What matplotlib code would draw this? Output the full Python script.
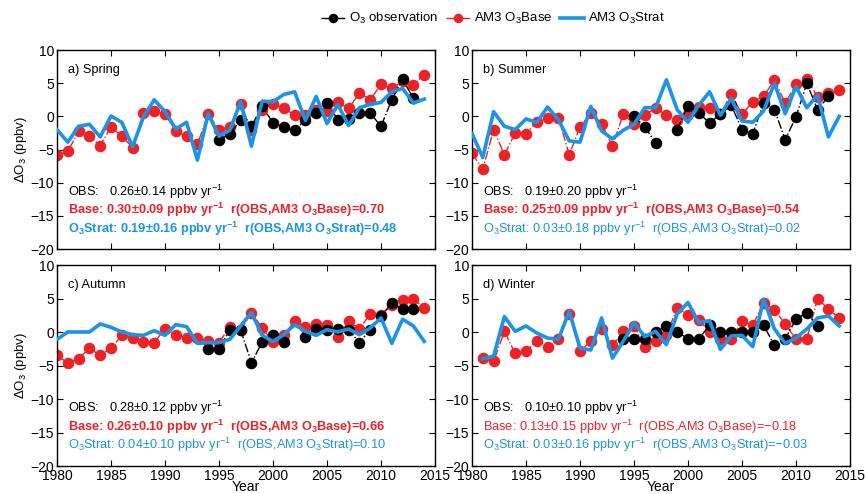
import numpy as np
import matplotlib.pyplot as plt

plt.rcParams['font.family'] = ['Liberation Sans', 'DejaVu Sans']
plt.rcParams['mathtext.fontset'] = 'custom'
plt.rcParams['mathtext.rm'] = 'Liberation Sans'
plt.rcParams['mathtext.it'] = 'Liberation Sans'
plt.rcParams['mathtext.bf'] = 'Liberation Sans:bold'

nan = np.nan
years = np.arange(1980, 2015)
win_years = np.arange(1981, 2015)

# spring
spr_obs_years = np.arange(1995, 2014)
spr_obs = [-3.6, -2.6, -0.6, -1.5, 1.5, -1.0, -1.6, -2.0, -0.6, 0.5, 2.0, -0.5, -0.4, 0.5, 0.5, -1.5, 2.5, 5.6, 2.7]
spr_base = [-5.9, -5.3, -2.2, -3.0, -4.4, -1.6, -3.0, -4.7, 0.5, 0.8,
            0.4, -2.2, -3.0, -4.2, 0.3, -2.0, -1.6, 1.9, -2.0, 1.0,
            1.9, 1.2, 0.2, 0.2, 0.9, 0.8, 2.1, 1.2, 3.5, 2.5,
            4.8, 4.2, 5.3, 4.7, 6.3]
spr_strat = [-2.0, -3.9, -1.5, -1.2, -3.1, 0.05, -0.9, -4.6, -0.1, 2.5,
             0.7, -1.9, -0.9, -6.6, 0.4, -3.0, -2.1, 2.2, -4.5, 2.3,
             2.2, 3.3, 3.7, -0.6, 3.0, -1.1, 1.8, -1.4, 1.3, 1.8,
             2.1, 3.7, 4.2, 2.0, 2.6]

# summer
sum_obs_years = np.arange(1995, 2014)
sum_obs = [0.0, -1.6, -4.0, nan, -2.0, 1.6, 0.5, -1.0, 0.3, 1.7, -2.0, -2.6, 2.0, 1.0, -3.5, -0.1, 5.0, 1.0, 3.0]
sum_base = [-5.6, -8.0, -2.0, -5.8, -2.5, -2.6, -0.9, -0.2, -0.2, -5.8,
            -1.6, 0.5, -1.1, -4.5, 0.3, -1.1, 0.15, 1.3, 0.15, -0.5,
            0.3, 1.4, 1.3, 0.3, 3.4, 0.3, 2.2, 3.0, 5.5, 2.0,
            4.8, 5.7, 2.9, 3.5, 4.0]
sum_strat = [-2.6, -6.2, 0.7, -1.5, -2.0, -0.4, -0.9, 1.4, -0.5, -3.7,
             -3.9, 1.5, -2.2, -3.4, -2.1, -1.2, 1.3, 1.3, 5.5, 1.0,
             -0.9, 1.7, 3.7, 0.15, 2.7, -0.7, -0.9, 0.8, 5.0, 0.4,
             4.5, 1.3, 3.2, -3.1, 0.0]

# autumn
aut_obs_years = np.arange(1994, 2014)
aut_obs = [-2.6, -2.6, 0.35, 0.35, -4.6, -1.5, -0.5, -1.5, nan, -0.7,
           0.45, 0.35, 0.45, 0.35, -1.6, 0.35, 2.4, 4.3, 3.4, 3.4]
aut_base = [-3.5, -4.6, -4.0, -2.4, -3.5, -2.4, -0.5, -0.9, -1.5, -1.6,
            0.5, -0.4, -0.9, -0.9, -1.3, -1.6, 0.8, 0.3, 2.9, 0.6,
            -1.5, -0.4, 1.6, 0.75, 1.2, 1.0, -0.7, 1.6, 0.45, 2.7,
            2.5, 4.0, 4.8, 4.9, 3.6]
aut_strat = [-1.1, 0.0, 0.0, 0.0, 1.2, 0.7, 0.0, -0.4, -0.5, 0.2,
             -0.5, 1.1, 0.8, -1.7, -1.6, -1.6, -1.1, 0.9, 2.9, -0.5,
             -1.4, -0.4, 1.1, 0.1, -0.5, 0.35, 0.0, 0.45, -0.4, 0.6,
             2.1, -1.7, 1.9, 0.9, -1.4]

# winter (1981-2014)
win_obs_years = np.arange(1994, 2013)
win_obs = [-1.0, -1.0, -1.0, 0.0, 0.9, 0.0, -1.0, -1.0, 1.0, 0.0, 0.0, 0.0, 0.0, 1.0, -2.0, -1.0, 1.9, 2.9, 0.9]
win_base = [-3.9, -4.4, 0.1, -3.2, -2.9, -1.3, -2.2, -1.0, 2.7,
            -2.9, -1.4, 0.45, -2.0, 0.1, 0.9, -2.2, -1.4, -0.4, 3.6,
            2.6, 1.8, 0.0, -1.0, -1.0, 1.6, 1.0, 4.4, 3.3, 1.2,
            -1.1, -1.0, 5.0, 3.4, 2.1]
win_strat = [-4.0, -3.6, 2.3, 0.1, 0.9, -0.15, -0.9, -1.1, 3.1,
             -2.4, -2.7, 2.1, -3.9, -1.4, 1.4, -0.7, 0.1, -1.9, 2.7,
             4.4, 1.4, 1.7, -2.6, -0.6, -0.5, -2.2, 4.9, 0.45, -1.7,
             -0.9, 0.45, 2.1, 2.4, 0.9]

labels = ['a) Spring', 'b) Summer', 'c) Autumn', 'd) Winter']
obs_txt = ['0.26\u00b10.14', '0.19\u00b10.20', '0.28\u00b10.12', '0.10\u00b10.10']
base_txt = ['0.30\u00b10.09', '0.25\u00b10.09', '0.26\u00b10.10', '0.13\u00b10.15']
base_r = ['0.70', '0.54', '0.66', '\u22120.18']
strat_txt = ['0.19\u00b10.16', '0.03\u00b10.18', '0.04\u00b10.10', '0.03\u00b10.16']
strat_r = ['0.48', '0.02', '0.10', '\u22120.03']
base_bold = [True, True, True, False]
strat_bold = [True, False, False, False]

red = '#ec2227'
blue = '#1a94e8'

panels = [
    (spr_obs_years, spr_obs, years, spr_base, spr_strat),
    (sum_obs_years, sum_obs, years, sum_base, sum_strat),
    (aut_obs_years, aut_obs, years, aut_base, aut_strat),
    (win_obs_years, win_obs, win_years, win_base, win_strat),
]

W, H = 866, 494
fig = plt.figure(figsize=(W / 100, H / 100), dpi=100)
boxes = [(57, 50, 378, 199), (472, 50, 378, 199),
         (57, 265, 378, 201), (472, 265, 378, 201)]
fs = 9.2

handles = None
for i, (oy, ov, my, mb, ms) in enumerate(panels):
    x0, y0, w, h = boxes[i]
    ax = fig.add_axes([x0 / W, 1 - (y0 + h) / H, w / W, h / H])
    hb, = ax.plot(my, mb, '-.', color=red, lw=1, marker='o', ms=7.3,
                  mec=red, mfc=red, zorder=2)
    ho, = ax.plot(oy, ov, '-.', color='black', lw=1, marker='o', ms=7.3,
                  mec='black', mfc='black', zorder=3)
    hs, = ax.plot(my, ms, '-', color=blue, lw=2.6, zorder=4)
    if handles is None:
        handles = [ho, hb, hs]
    ax.set_xlim(1980, 2015)
    ax.set_ylim(-20, 10)
    ax.set_xticks(np.arange(1980, 2016, 5))
    ax.set_yticks(np.arange(-20, 11, 5))
    ax.tick_params(direction='in', top=True, right=True, labelsize=10,
                   length=4, width=0.8, pad=2)
    for s in ax.spines.values():
        s.set_linewidth(1.0)
    if i < 2:
        ax.set_xticklabels([])
    else:
        ax.set_xlabel('Year', fontsize=10, labelpad=-2)
    if i % 2 == 0:
        ax.set_ylabel(r'$\Delta$O$_3$ (ppbv)', fontsize=9.5, labelpad=1)

    ax.text(1981, 7.0, labels[i], fontsize=fs, va='center')
    ax.text(1981, -11.4, 'OBS:   ' + obs_txt[i] + ' ppbv yr$^{-1}$',
            fontsize=fs, va='center', color='black')
    if base_bold[i]:
        s = ('Base: ' + base_txt[i] + r' ppbv yr$^{\mathbf{-1}}$  r(OBS,AM3 O$_{\mathbf{3}}$Base)=' + base_r[i])
        ax.text(1981, -14.1, s, fontsize=fs, va='center', color=red, weight='bold')
    else:
        s = ('Base: ' + base_txt[i] + ' ppbv yr$^{-1}$  r(OBS,AM3 O$_3$Base)=' + base_r[i])
        ax.text(1981, -14.1, s, fontsize=fs, va='center', color=red)
    if strat_bold[i]:
        s = (r'O$_{\mathbf{3}}$Strat: ' + strat_txt[i] + r' ppbv yr$^{\mathbf{-1}}$  r(OBS,AM3 O$_{\mathbf{3}}$Strat)=' + strat_r[i])
        ax.text(1981, -16.9, s, fontsize=fs, va='center', color=blue, weight='bold')
    else:
        s = ('O$_3$Strat: ' + strat_txt[i] + ' ppbv yr$^{-1}$  r(OBS,AM3 O$_3$Strat)=' + strat_r[i])
        ax.text(1981, -16.9, s, fontsize=fs, va='center', color=blue)

fig.legend(handles, ['O$_3$ observation', 'AM3 O$_3$Base', 'AM3 O$_3$Strat'],
           loc='center', bbox_to_anchor=(0.569, 0.962), ncol=3, frameon=False,
           fontsize=9.5, handlelength=1.8, handletextpad=0.3, columnspacing=0.6,
           markerscale=0.8)

fig.savefig('out.png', dpi=100)
